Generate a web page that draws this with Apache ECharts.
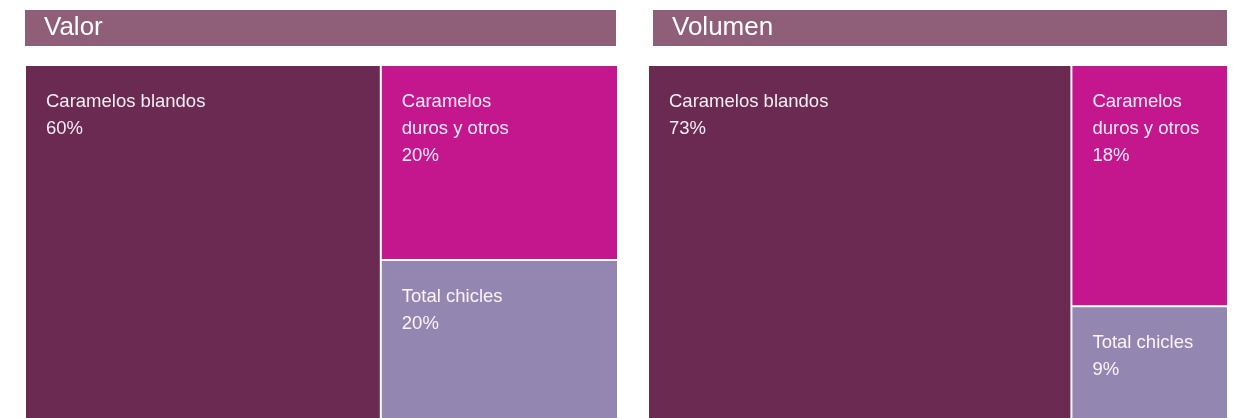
<!DOCTYPE html>
<html>
<head>
<meta charset="utf-8">
<script src="https://cdn.jsdelivr.net/npm/echarts@6/dist/echarts.min.js"></script>
<style>
  html, body { margin: 0; padding: 0; background: #fff; overflow: hidden; }
  #chart { width: 1233px; height: 418px; }
</style>
</head>
<body>
<div id="chart"></div>
<script>
// datos
const panelTitles = ['Valor', 'Volumen']
const categories = ['Caramelos blandos', 'Caramelos\nduros y otros', 'Total chicles']
const valorShare = [60, 20, 20]
const volumenShare = [73, 18, 9]

const colors = ['#6b2a51', '#c4178e', '#9387b1']

const chart = echarts.init(document.getElementById('chart'))

const buildData = (values) => categories.map((name, i) => ({
  name,
  value: values[i],
  itemStyle: { color: colors[i] }
}))

const makeTreemap = (values, left, width, height) => ({
  type: 'treemap',
  left,
  top: 66,
  width,
  height,
  sort: false,
  roam: false,
  nodeClick: false,
  breadcrumb: { show: false },
  levels: [
    { itemStyle: { borderWidth: 0, gapWidth: 2 } },
    { itemStyle: { borderWidth: 0, borderColor: '#fff' } }
  ],
  label: {
    show: true,
    position: 'insideTopLeft',
    padding: [22, 20],
    color: 'rgba(255,255,255,0.92)',
    fontSize: 18.5,
    lineHeight: 27,
    fontFamily: 'Liberation Sans, Arial, sans-serif',
    formatter: (p) => `${p.name}\n${p.value}%`
  },
  emphasis: { disabled: true },
  data: buildData(values)
})

const titleBar = (text, x, w) => ({
  type: 'group',
  children: [
    {
      type: 'rect',
      shape: { x, y: 10, width: w, height: 36 },
      style: { fill: '#8f5e78' },
      silent: true
    },
    {
      type: 'text',
      x: x + 19,
      y: 28,
      style: {
        text,
        fill: '#fff',
        fontSize: 26,
        fontFamily: 'Liberation Sans, Arial, sans-serif',
        verticalAlign: 'middle'
      },
      silent: true
    }
  ]
})

chart.setOption({
  animation: false,
  tooltip: { show: false },
  graphic: [
    titleBar(panelTitles[0], 25, 591),
    titleBar(panelTitles[1], 653, 574)
  ],
  series: [
    makeTreemap(valorShare, 26, 591, 388),
    makeTreemap(volumenShare, 649, 578, 360)
  ]
})
</script>
</body>
</html>
